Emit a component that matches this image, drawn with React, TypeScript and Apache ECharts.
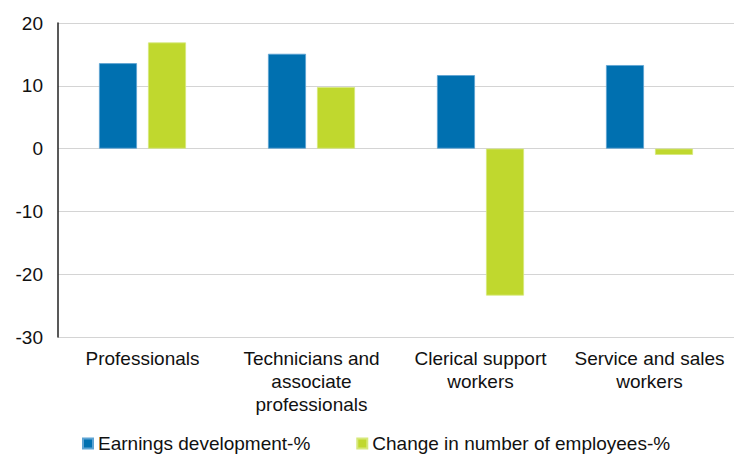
import React, { useEffect, useRef } from "react";
import * as echarts from "echarts";

const categories = [
  "Professionals",
  "Technicians and associate professionals",
  "Clerical support workers",
  "Service and sales workers",
];
const categoryLabels = [
  "Professionals",
  "Technicians and\nassociate\nprofessionals",
  "Clerical support\nworkers",
  "Service and sales\nworkers",
];
const earnings = [13.6, 15.1, 11.7, 13.3];
const employees = [16.9, 9.8, -23.4, -1.0];
const seriesNames = ["Earnings development-%", "Change in number of employees-%"];

const FONT = "'Liberation Sans', Arial, sans-serif";

export default function App() {
  const ref = useRef<HTMLDivElement>(null);
  useEffect(() => {
    if (!ref.current) return;
    const chart = echarts.init(ref.current, null, { renderer: "svg" });
    chart.setOption({
      animation: false,
      textStyle: { fontFamily: FONT },
      grid: { left: 58, right: 0, top: 23, bottom: 117, containLabel: false },
      legend: {
        left: 82,
        top: 434,
        padding: 0,
        itemWidth: 10,
        itemHeight: 10,
        itemGap: 46,
        icon: "rect",
        textStyle: { fontSize: 19, color: "#111", fontFamily: FONT },
        data: seriesNames,
      },
      xAxis: {
        type: "category",
        data: categories,
        axisLine: { show: false },
        axisTick: { show: false },
        axisLabel: {
          interval: 0,
          margin: 10,
          fontSize: 19,
          lineHeight: 23,
          color: "#111",
          fontFamily: FONT,
          formatter: (v: string) => categoryLabels[categories.indexOf(v)] ?? v,
        },
      },
      yAxis: {
        type: "value",
        min: -30,
        max: 20,
        interval: 10,
        axisLine: { show: true, lineStyle: { color: "#222", width: 1.5 } },
        axisTick: { show: false },
        axisLabel: { fontSize: 19, color: "#111", margin: 15, fontFamily: FONT },
        splitLine: { show: true, lineStyle: { color: "#d4d4d4", width: 1 } },
      },
      series: [
        {
          name: seriesNames[0],
          type: "bar",
          data: earnings,
          barWidth: 38,
          barGap: "29%",
          itemStyle: { color: "#0070b0", borderColor: "#5da3d3", borderWidth: 0.8 },
        },
        {
          name: seriesNames[1],
          type: "bar",
          data: employees,
          barWidth: 38,
          barGap: "29%",
          itemStyle: { color: "#c0d82e", borderColor: "#d6e87a", borderWidth: 0.8 },
        },
      ],
    });
    return () => chart.dispose();
  }, []);
  return (
    <div
      ref={ref}
      style={{ position: "fixed", left: 0, top: 0, width: 734, height: 454, background: "#fff" }}
    />
  );
}
